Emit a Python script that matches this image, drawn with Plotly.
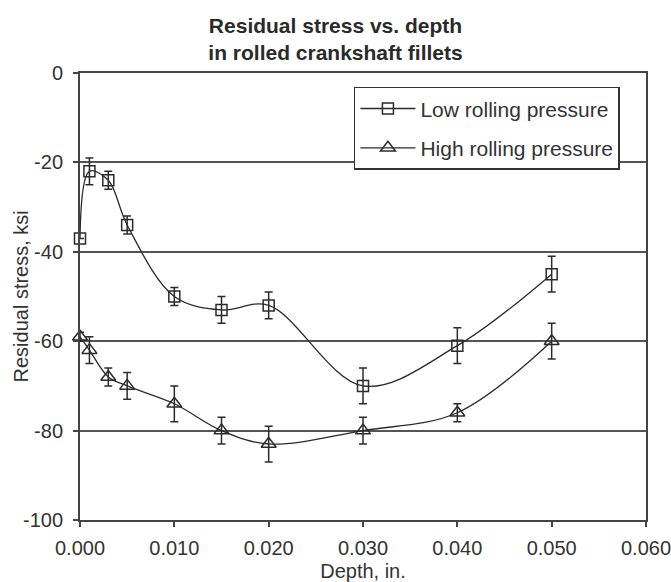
import plotly.graph_objects as go

depth_low = [0.0, 0.001, 0.003, 0.005, 0.010, 0.015, 0.020, 0.030, 0.040, 0.050]
stress_low = [-37, -22, -24, -34, -50, -53, -52, -70, -61, -45]
err_low = [0, 3, 2, 2, 2, 3, 3, 4, 4, 4]

depth_high = [0.0, 0.001, 0.003, 0.005, 0.010, 0.015, 0.020, 0.030, 0.040, 0.050]
stress_high = [-59, -62, -68, -70, -74, -80, -83, -80, -76, -60]
err_high = [1, 3, 2, 3, 4, 3, 4, 3, 2, 4]

x_ticks = [0.0, 0.01, 0.02, 0.03, 0.04, 0.05, 0.06]
x_labels = ["0.000", "0.010", "0.020", "0.030", "0.040", "0.050", "0.060"]
y_ticks = [0, -20, -40, -60, -80, -100]
y_labels = ["0", "-20", "-40", "-60", "-80", "-100"]

FONT = "Arial, Liberation Sans, sans-serif"
INK = "#2b2b2b"

fig = go.Figure()
fig.add_trace(go.Scatter(
    x=depth_low, y=stress_low, mode="lines+markers", name="Low rolling pressure",
    legendgroup="low", cliponaxis=False,
    line=dict(color=INK, width=1.3, shape="spline", smoothing=1.0),
    marker=dict(symbol="square-open", size=11, color=INK, line=dict(width=1.5, color=INK)),
    error_y=dict(type="data", array=err_low, visible=True, color=INK, thickness=1.5, width=4),
))
fig.add_trace(go.Scatter(
    x=depth_high, y=stress_high, mode="lines+markers", name="High rolling pressure",
    legendgroup="high", cliponaxis=False,
    line=dict(color=INK, width=1.3, shape="spline", smoothing=1.0),
    marker=dict(symbol="triangle-up-open", size=13, color=INK, line=dict(width=1.5, color=INK)),
    error_y=dict(type="data", array=err_high, visible=True, color=INK, thickness=1.5, width=4),
))

fig.update_layout(
    width=671, height=582,
    margin=dict(l=80, r=25, t=73, b=62, autoexpand=False),
    paper_bgcolor="white", plot_bgcolor="white",
    font=dict(family=FONT, color="#333333"),
    title=dict(text="<b>Residual stress vs. depth<br>in rolled crankshaft fillets</b>",
               x=0.5, xanchor="center", xref="container",
               y=1 - 33 / 582, yanchor="middle", yref="container",
               font=dict(size=21, family=FONT, color="#2a2a2a")),
    showlegend=True,
    legend=dict(x=0.484, y=0.969, xanchor="left", yanchor="top",
                bordercolor="#333333", borderwidth=1.5, bgcolor="white",
                font=dict(size=21, family=FONT, color="#333333"),
                itemwidth=55, tracegroupgap=9),
    xaxis=dict(range=[0, 0.06], tickvals=x_ticks, ticktext=x_labels,
               showgrid=False, zeroline=False, automargin=False,
               showline=True, linecolor="#444444", linewidth=2, mirror=True,
               ticks="outside", ticklen=5, tickwidth=2, tickcolor="#444444",
               ticklabeloverflow="allow", ticklabelstandoff=4,
               tickfont=dict(size=20, family=FONT, color="#333333"),
               title=dict(text="Depth, in.", font=dict(size=20, family=FONT, color="#333333"), standoff=18)),
    yaxis=dict(range=[-100, 0], tickvals=y_ticks, ticktext=y_labels,
               showgrid=True, gridcolor="#555555", gridwidth=2, zeroline=False, automargin=False,
               showline=True, linecolor="#444444", linewidth=2, mirror=True,
               ticks="outside", ticklen=5, tickwidth=2, tickcolor="#444444",
               ticklabelstandoff=6,
               tickfont=dict(size=20, family=FONT, color="#333333")),
    annotations=[dict(text="Residual stress, ksi", textangle=-90,
                      xref="paper", yref="paper", x=(20 - 80) / 566, y=0.5,
                      xanchor="center", yanchor="middle", showarrow=False,
                      font=dict(size=20, family=FONT, color="#333333"))],
)

fig.write_html("out.html")
